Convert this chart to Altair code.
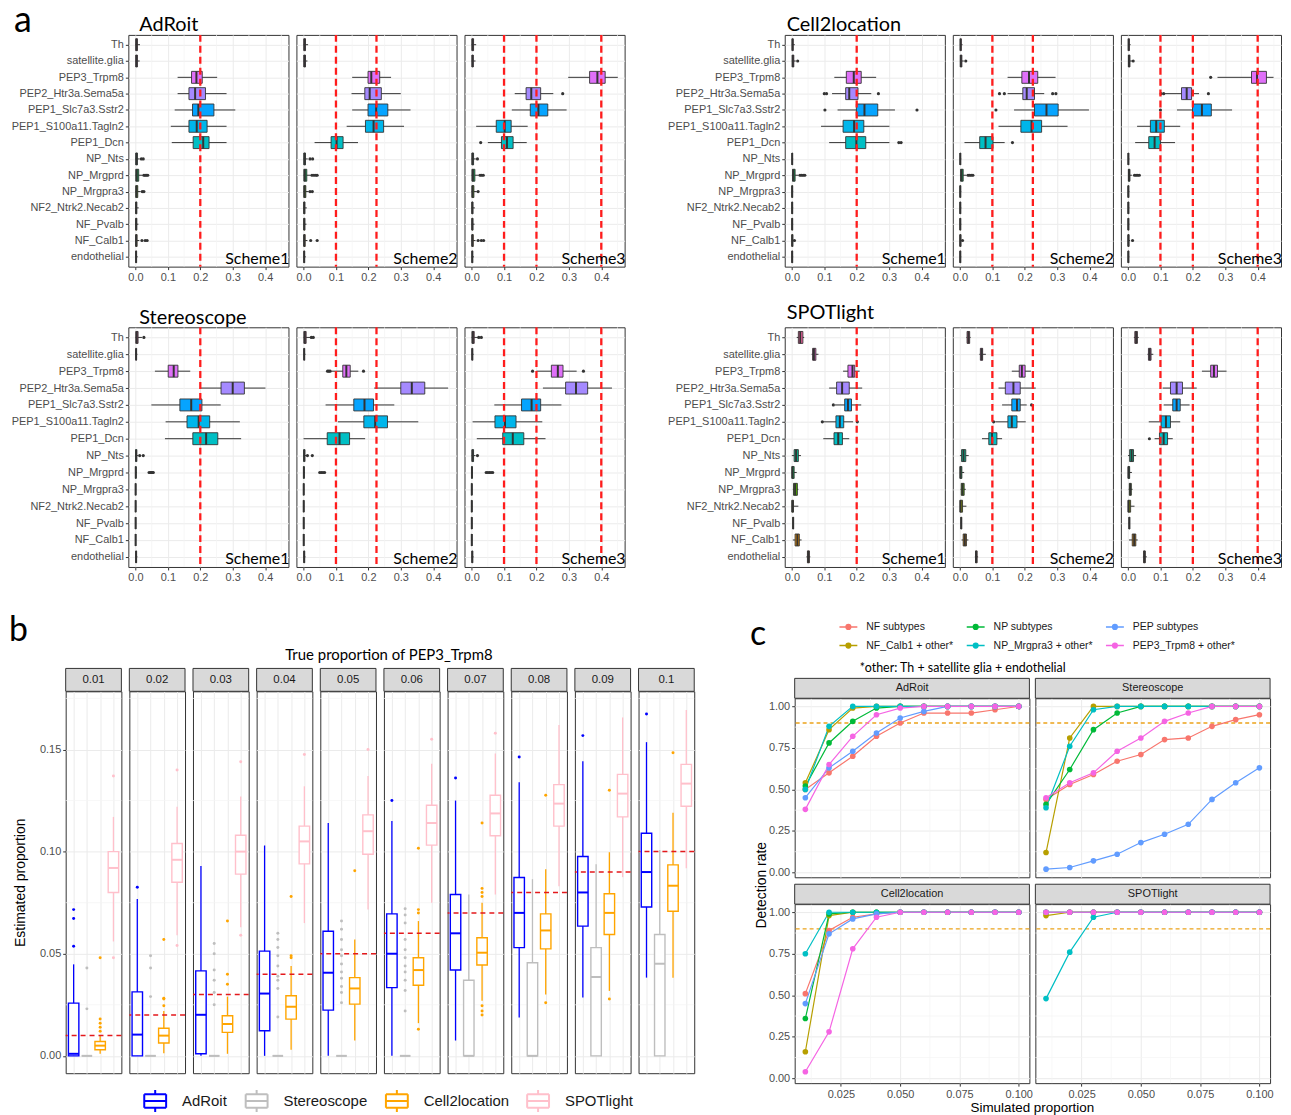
import altair as alt
import pandas as pd

FONT = "Liberation Sans"
ANN = "Lato"
GRID = "#ebebeb"
MINOR = "#f4f4f4"
FRAME = "#333333"
DARK = "#333333"

# ---------------- panel a ----------------
CELLTYPES = ["Th", "satellite.glia", "PEP3_Trpm8", "PEP2_Htr3a.Sema5a", "PEP1_Slc7a3.Sstr2",
             "PEP1_S100a11.Tagln2", "PEP1_Dcn", "NP_Nts", "NP_Mrgprd", "NP_Mrgpra3",
             "NF2_Ntrk2.Necab2", "NF_Pvalb", "NF_Calb1", "endothelial"]
CELL_COLORS = ["#FF66A8", "#FB61D7", "#DF70F8", "#A58AFF", "#06A4FF", "#00B6EB", "#00BFC4",
               "#00C094", "#00BC56", "#53B400", "#99A800", "#C49A00", "#E38900", "#F8766D"]

# (lower whisker, q1, median, q3, upper whisker) per cell type, in CELLTYPES order
ADROIT_S1 = [(0, 0.001, 0.003, 0.006, 0.014), (0, 0.001, 0.003, 0.006, 0.013),
             (0.130, 0.173, 0.188, 0.206, 0.252), (0.130, 0.165, 0.184, 0.216, 0.281),
             (0.121, 0.176, 0.194, 0.242, 0.308), (0.109, 0.165, 0.189, 0.221, 0.281),
             (0.112, 0.178, 0.209, 0.227, 0.281), (0, 0.001, 0.003, 0.006, 0.013),
             (0, 0.001, 0.004, 0.010, 0.022), (0, 0.001, 0.003, 0.007, 0.016),
             (0, 0.001, 0.002, 0.004, 0.010), (0, 0.001, 0.002, 0.004, 0.009),
             (0, 0.001, 0.002, 0.005, 0.012), (0, 0.001, 0.002, 0.003, 0.007)]
ADROIT_S1_OUT = {"NP_Nts": [0.018, 0.024], "NP_Mrgprd": [0.026, 0.030, 0.034, 0.038],
                 "NP_Mrgpra3": [0.021, 0.026], "NF_Calb1": [0.020, 0.030, 0.036]}
ADROIT_S2 = [(0, 0.001, 0.003, 0.006, 0.014), (0, 0.001, 0.003, 0.006, 0.012),
             (0.150, 0.199, 0.209, 0.235, 0.270), (0.148, 0.189, 0.204, 0.240, 0.300),
             (0.150, 0.199, 0.224, 0.260, 0.330), (0.133, 0.191, 0.216, 0.247, 0.310),
             (0.034, 0.085, 0.102, 0.122, 0.168), (0, 0.001, 0.003, 0.006, 0.013),
             (0, 0.001, 0.004, 0.010, 0.022), (0, 0.001, 0.003, 0.007, 0.016),
             (0, 0.001, 0.002, 0.004, 0.010), (0, 0.001, 0.002, 0.004, 0.009),
             (0, 0.001, 0.002, 0.005, 0.012), (0, 0.001, 0.002, 0.003, 0.007)]
ADROIT_S2_OUT = {"NP_Nts": [0.020, 0.028], "NP_Mrgprd": [0.026, 0.032, 0.038, 0.042],
                 "NP_Mrgpra3": [0.020, 0.027], "NF_Calb1": [0.022, 0.042]}
ADROIT_S3 = [(0, 0.001, 0.003, 0.006, 0.014), (0, 0.001, 0.003, 0.005, 0.012),
             (0.298, 0.364, 0.388, 0.412, 0.451), (0.133, 0.168, 0.184, 0.213, 0.252),
             (0.124, 0.181, 0.206, 0.235, 0.293), (0.014, 0.076, 0.102, 0.122, 0.173),
             (0.050, 0.092, 0.109, 0.128, 0.170), (0, 0.001, 0.003, 0.006, 0.013),
             (0, 0.001, 0.004, 0.010, 0.022), (0, 0.001, 0.003, 0.007, 0.016),
             (0, 0.001, 0.002, 0.004, 0.010), (0, 0.001, 0.002, 0.004, 0.009),
             (0, 0.001, 0.002, 0.005, 0.012), (0, 0.001, 0.002, 0.003, 0.007)]
ADROIT_S3_OUT = {"PEP2_Htr3a.Sema5a": [0.281], "PEP1_Dcn": [0.028], "NP_Nts": [0.018],
                 "NP_Mrgprd": [0.026, 0.031, 0.036], "NP_Mrgpra3": [0.020],
                 "NF_Calb1": [0.020, 0.030, 0.037]}

C2L_S1 = [(0, 0.001, 0.002, 0.004, 0.009), (0, 0.001, 0.003, 0.006, 0.012),
          (0.131, 0.168, 0.191, 0.214, 0.260), (0.124, 0.166, 0.177, 0.204, 0.245),
          (0.141, 0.199, 0.224, 0.265, 0.318), (0.090, 0.158, 0.192, 0.222, 0.301),
          (0.115, 0.166, 0.199, 0.228, 0.301), (0, 0.0005, 0.001, 0.002, 0.004),
          (0, 0.002, 0.005, 0.010, 0.020), (0, 0, 0.001, 0.002, 0.004),
          (0, 0, 0.001, 0.002, 0.004), (0, 0, 0.001, 0.002, 0.004),
          (0, 0, 0.001, 0.003, 0.006), (0, 0, 0.001, 0.002, 0.004)]
C2L_S1_OUT = {"satellite.glia": [0.018], "PEP2_Htr3a.Sema5a": [0.100, 0.107, 0.267],
              "PEP1_Slc7a3.Sstr2": [0.102, 0.386], "PEP1_Dcn": [0.330, 0.337],
              "NP_Mrgprd": [0.025, 0.030, 0.035, 0.040], "NF_Calb1": [0.008]}
C2L_S2 = [(0, 0.001, 0.002, 0.004, 0.008), (0, 0.001, 0.003, 0.006, 0.012),
          (0.147, 0.191, 0.213, 0.240, 0.295), (0.147, 0.194, 0.206, 0.230, 0.260),
          (0.167, 0.230, 0.267, 0.303, 0.398), (0.119, 0.188, 0.221, 0.252, 0.332),
          (0.014, 0.061, 0.079, 0.102, 0.138), (0, 0.0005, 0.001, 0.002, 0.004),
          (0, 0.002, 0.005, 0.010, 0.020), (0, 0, 0.001, 0.002, 0.004),
          (0, 0, 0.001, 0.002, 0.004), (0, 0, 0.001, 0.002, 0.004),
          (0, 0, 0.001, 0.003, 0.006), (0, 0, 0.001, 0.002, 0.004)]
C2L_S2_OUT = {"satellite.glia": [0.018], "PEP2_Htr3a.Sema5a": [0.122, 0.137, 0.286, 0.296],
              "PEP1_Slc7a3.Sstr2": [0.111], "PEP1_Dcn": [0.162],
              "NP_Mrgprd": [0.025, 0.030, 0.035, 0.040], "NF_Calb1": [0.008]}
C2L_S3 = [(0, 0.001, 0.002, 0.004, 0.008), (0, 0.001, 0.003, 0.006, 0.012),
          (0.276, 0.381, 0.398, 0.427, 0.449), (0.112, 0.165, 0.181, 0.196, 0.219),
          (0.151, 0.199, 0.228, 0.257, 0.321), (0.028, 0.069, 0.087, 0.112, 0.161),
          (0.022, 0.064, 0.082, 0.100, 0.145), (0, 0.0005, 0.001, 0.002, 0.004),
          (0, 0.001, 0.003, 0.006, 0.012), (0, 0, 0.001, 0.002, 0.004),
          (0, 0, 0.001, 0.002, 0.004), (0, 0, 0.001, 0.002, 0.004),
          (0, 0, 0.001, 0.003, 0.006), (0, 0, 0.001, 0.002, 0.004)]
C2L_S3_OUT = {"satellite.glia": [0.016], "PEP3_Trpm8": [0.255],
              "PEP2_Htr3a.Sema5a": [0.102, 0.110, 0.248], "PEP1_Slc7a3.Sstr2": [0.100],
              "NP_Mrgprd": [0.020, 0.025, 0.030, 0.035], "NF_Calb1": [0.014]}

STEREO_S1 = [(0, 0.001, 0.004, 0.008, 0.020), (0, 0.001, 0.002, 0.003, 0.006),
             (0.060, 0.101, 0.118, 0.131, 0.169), (0.200, 0.264, 0.300, 0.336, 0.401),
             (0.049, 0.137, 0.172, 0.205, 0.263), (0.093, 0.159, 0.195, 0.229, 0.322),
             (0.091, 0.177, 0.218, 0.254, 0.326), (0, 0.0005, 0.002, 0.004, 0.008),
             (0, 0, 0.001, 0.002, 0.004), (0, 0, 0.0005, 0.001, 0.002),
             (0, 0, 0.0005, 0.001, 0.002), (0, 0, 0.0005, 0.001, 0.002),
             (0, 0, 0.0005, 0.001, 0.002), (0, 0.001, 0.002, 0.003, 0.006)]
STEREO_S1_OUT = {"Th": [0.026], "NP_Nts": [0.013, 0.024],
                 "NP_Mrgprd": [0.042, 0.046, 0.049, 0.052, 0.055]}
STEREO_S2 = [(0, 0.001, 0.004, 0.008, 0.020), (0, 0.001, 0.002, 0.003, 0.006),
             (0.086, 0.121, 0.132, 0.144, 0.169), (0.218, 0.300, 0.334, 0.374, 0.446),
             (0.068, 0.155, 0.188, 0.216, 0.280), (0.106, 0.186, 0.221, 0.259, 0.354),
             (0.000, 0.073, 0.111, 0.142, 0.190), (0, 0.0005, 0.002, 0.004, 0.008),
             (0, 0, 0.001, 0.002, 0.004), (0, 0, 0.0005, 0.001, 0.002),
             (0, 0, 0.0005, 0.001, 0.002), (0, 0, 0.0005, 0.001, 0.002),
             (0, 0, 0.0005, 0.001, 0.002), (0, 0.001, 0.002, 0.003, 0.006)]
STEREO_S2_OUT = {"Th": [0.024, 0.030], "PEP3_Trpm8": [0.074, 0.078, 0.082, 0.185],
                 "NP_Nts": [0.012, 0.027], "NP_Mrgprd": [0.050, 0.055, 0.060, 0.065]}
STEREO_S3 = [(0, 0.001, 0.004, 0.008, 0.020), (0, 0.001, 0.002, 0.003, 0.006),
             (0.200, 0.246, 0.266, 0.282, 0.324), (0.220, 0.290, 0.322, 0.358, 0.433),
             (0.070, 0.154, 0.185, 0.213, 0.277), (0.003, 0.072, 0.103, 0.137, 0.218),
             (0.016, 0.096, 0.127, 0.161, 0.228), (0, 0.001, 0.003, 0.006, 0.012),
             (0, 0, 0.001, 0.002, 0.004), (0, 0, 0.0005, 0.001, 0.002),
             (0, 0, 0.0005, 0.001, 0.002), (0, 0, 0.0005, 0.001, 0.002),
             (0, 0, 0.0005, 0.001, 0.002), (0, 0.001, 0.002, 0.003, 0.006)]
STEREO_S3_OUT = {"Th": [0.022, 0.030], "PEP3_Trpm8": [0.188, 0.345], "NP_Nts": [0.018],
                 "NP_Mrgprd": [0.045, 0.050, 0.055, 0.060, 0.065]}

SPOT_S1 = [(0.015, 0.020, 0.026, 0.034, 0.038), (0.061, 0.064, 0.068, 0.074, 0.082),
           (0.158, 0.173, 0.187, 0.194, 0.209), (0.115, 0.138, 0.155, 0.177, 0.217),
           (0.133, 0.163, 0.173, 0.184, 0.214), (0.097, 0.136, 0.148, 0.160, 0.189),
           (0.097, 0.130, 0.143, 0.156, 0.177), (0.000, 0.007, 0.013, 0.020, 0.028),
           (0.000, 0.000, 0.002, 0.007, 0.015), (0.003, 0.005, 0.010, 0.017, 0.020),
           (0.000, 0.000, 0.002, 0.005, 0.020), (0.002, 0.003, 0.004, 0.005, 0.006),
           (0.003, 0.010, 0.017, 0.023, 0.030), (0.045, 0.048, 0.051, 0.054, 0.057)]
SPOT_S1_OUT = {"PEP1_Slc7a3.Sstr2": [0.128], "PEP1_S100a11.Tagln2": [0.094, 0.202]}
SPOT_S2 = [(0.020, 0.022, 0.026, 0.030, 0.033), (0.060, 0.063, 0.067, 0.070, 0.080),
           (0.160, 0.183, 0.191, 0.201, 0.219), (0.119, 0.140, 0.165, 0.186, 0.234),
           (0.130, 0.160, 0.176, 0.186, 0.206), (0.109, 0.148, 0.160, 0.176, 0.203),
           (0.068, 0.089, 0.099, 0.114, 0.130), (0.000, 0.005, 0.011, 0.018, 0.027),
           (0.000, 0.000, 0.002, 0.006, 0.013), (0.002, 0.004, 0.008, 0.013, 0.018),
           (0.000, 0.000, 0.002, 0.008, 0.020), (0.002, 0.003, 0.004, 0.005, 0.006),
           (0.005, 0.010, 0.015, 0.020, 0.026), (0.046, 0.048, 0.050, 0.053, 0.056)]
SPOT_S2_OUT = {"PEP1_Slc7a3.Sstr2": [0.221], "PEP1_S100a11.Tagln2": [0.104]}
SPOT_S3 = [(0.018, 0.021, 0.025, 0.029, 0.033), (0.060, 0.063, 0.067, 0.071, 0.078),
           (0.228, 0.255, 0.265, 0.276, 0.304), (0.107, 0.131, 0.150, 0.168, 0.212),
           (0.110, 0.138, 0.150, 0.161, 0.190), (0.064, 0.102, 0.117, 0.131, 0.161),
           (0.082, 0.097, 0.110, 0.122, 0.138), (0.000, 0.005, 0.011, 0.017, 0.025),
           (0.000, 0.000, 0.002, 0.005, 0.012), (0.002, 0.004, 0.007, 0.010, 0.014),
           (0.000, 0.000, 0.002, 0.008, 0.020), (0.002, 0.003, 0.004, 0.005, 0.006),
           (0.003, 0.013, 0.019, 0.024, 0.030), (0.046, 0.048, 0.051, 0.053, 0.058)]
SPOT_S3_OUT = {"PEP1_Dcn": [0.066]}

A_TRUE_LINES = {1: [0.2], 2: [0.1, 0.225], 3: [0.1, 0.2, 0.4]}
A_TICKS = [0, 0.1, 0.2, 0.3, 0.4]
A_MINOR = [0.05, 0.15, 0.25, 0.35, 0.45]

# ---------------- panel b ----------------
PROPS = [0.01, 0.02, 0.03, 0.04, 0.05, 0.06, 0.07, 0.08, 0.09, 0.1]
PROP_LABELS = ["0.01", "0.02", "0.03", "0.04", "0.05", "0.06", "0.07", "0.08", "0.09", "0.1"]
METHODS = ["AdRoit", "Stereoscope", "Cell2location", "SPOTlight"]
METHOD_COLORS = ["#0000ff", "#bebebe", "#ffa500", "#ffc0cb"]

ADROIT_B = [(0, 0, 0.001, 0.0258, 0.0448), (0, 0, 0.0104, 0.0313, 0.0768),
            (0, 0.001, 0.0201, 0.0416, 0.093), (0, 0.0123, 0.0305, 0.0513, 0.103),
            (0, 0.0224, 0.0407, 0.061, 0.114), (0, 0.0334, 0.050, 0.0695, 0.115),
            (0.0075, 0.042, 0.060, 0.079, 0.125), (0.0188, 0.053, 0.070, 0.0873, 0.134),
            (0.0286, 0.0635, 0.080, 0.0976, 0.1443), (0.0383, 0.0729, 0.090, 0.109, 0.1536)]
ADROIT_B_OUT = [[0.0537, 0.0672, 0.0716], [0.0826], [], [], [], [0.125], [0.136],
                [0.1463], [0.1568], [0.1674]]
STEREO_B = [(0, 0, 0, 0, 0), (0, 0, 0, 0, 0), (0, 0, 0, 0, 0), (0, 0, 0, 0, 0),
            (0, 0, 0, 0, 0), (0, 0, 0, 0, 0), (0, 0, 0, 0.037, 0.079),
            (0, 0, 0, 0.0456, 0.0865), (0, 0, 0.0386, 0.053, 0.0938), (0, 0, 0.0451, 0.0594, 0.1008)]
STEREO_B_OUT = [[0.023, 0.043], [0.029, 0.043, 0.049], [0.025, 0.031, 0.037, 0.042, 0.050, 0.055],
                [0.019, 0.033, 0.037, 0.039, 0.044, 0.049, 0.053, 0.057, 0.060],
                [0.026, 0.031, 0.034, 0.038, 0.041, 0.045, 0.049, 0.052, 0.057, 0.062, 0.066],
                [0.022, 0.032, 0.037, 0.041, 0.044, 0.048, 0.052, 0.057, 0.065, 0.069, 0.072],
                [], [], [], []]
C2L_B = [(0.001, 0.003, 0.005, 0.007, 0.010), (0.0013, 0.0063, 0.0099, 0.0135, 0.022),
         (0.001, 0.0115, 0.0156, 0.0196, 0.029), (0.003, 0.018, 0.024, 0.0294, 0.044),
         (0.0075, 0.0253, 0.033, 0.0383, 0.057), (0.016, 0.0346, 0.042, 0.048, 0.066),
         (0.027, 0.0445, 0.0505, 0.0578, 0.075), (0.030, 0.0524, 0.0614, 0.0695, 0.0914),
         (0.0318, 0.0594, 0.070, 0.0794, 0.0997), (0.0383, 0.0708, 0.0833, 0.0935, 0.119)]
C2L_B_OUT = [[0.012, 0.014, 0.016, 0.018, 0.048], [0.0245, 0.0278, 0.0282, 0.057],
             [0.035, 0.040, 0.066], [0.048, 0.049, 0.078], [0.0906],
             [0.013, 0.070, 0.0716, 0.1016], [0.020, 0.022, 0.0245, 0.078, 0.080, 0.082, 0.114],
             [0.026, 0.1276], [0.0278, 0.130], [0.1484]]
SPOT_B = [(0.056, 0.080, 0.092, 0.100, 0.117), (0.059, 0.085, 0.096, 0.104, 0.122),
          (0.063, 0.089, 0.100, 0.108, 0.127), (0.065, 0.094, 0.105, 0.1125, 0.132),
          (0.0716, 0.0987, 0.110, 0.118, 0.137), (0.075, 0.1032, 0.114, 0.1227, 0.143),
          (0.079, 0.1078, 0.1187, 0.1276, 0.148), (0.083, 0.1125, 0.1235, 0.1328, 0.162),
          (0.0875, 0.117, 0.1284, 0.1378, 0.1657), (0.0919, 0.1222, 0.1333, 0.1427, 0.1693)]
SPOT_B_OUT = [[0.048, 0.137], [0.054, 0.140], [0.059, 0.144], [0.1476], [0.150], [0.155],
              [0.158], [], [], []]

B_STATS = {"AdRoit": ADROIT_B, "Stereoscope": STEREO_B, "Cell2location": C2L_B, "SPOTlight": SPOT_B}
B_OUT = {"AdRoit": ADROIT_B_OUT, "Stereoscope": STEREO_B_OUT, "Cell2location": C2L_B_OUT,
         "SPOTlight": SPOT_B_OUT}

# ---------------- panel c ----------------
C_X = [0.01, 0.02, 0.03, 0.04, 0.05, 0.06, 0.07, 0.08, 0.09, 0.10]
SERIES = ["NF subtypes", "NF_Calb1 + other*", "NP subtypes", "NP_Mrgpra3 + other*",
          "PEP subtypes", "PEP3_Trpm8 + other*"]
LEGEND_ORDER = ["NF subtypes", "NP subtypes", "PEP subtypes",
                "NF_Calb1 + other*", "NP_Mrgpra3 + other*", "PEP3_Trpm8 + other*"]
LEGEND_COLORS = ["#F8766D", "#00BA38", "#619CFF", "#B79F00", "#00BFC4", "#F564E3"]

DET_ADROIT = {
    "NF subtypes": [0.50, 0.60, 0.70, 0.82, 0.90, 0.96, 0.96, 0.96, 0.98, 1.00],
    "NF_Calb1 + other*": [0.54, 0.86, 0.99, 1, 1, 1, 1, 1, 1, 1],
    "NP subtypes": [0.52, 0.78, 0.91, 0.99, 1, 1, 1, 1, 1, 1],
    "NP_Mrgpra3 + other*": [0.50, 0.88, 1, 1, 1, 1, 1, 1, 1, 1],
    "PEP subtypes": [0.45, 0.63, 0.73, 0.84, 0.93, 0.97, 1, 1, 1, 1],
    "PEP3_Trpm8 + other*": [0.38, 0.65, 0.82, 0.95, 0.99, 1, 1, 1, 1, 1],
}
DET_STEREO = {
    "NF subtypes": [0.44, 0.53, 0.59, 0.67, 0.71, 0.80, 0.81, 0.88, 0.92, 0.95],
    "NF_Calb1 + other*": [0.12, 0.81, 1, 1, 1, 1, 1, 1, 1, 1],
    "NP subtypes": [0.41, 0.62, 0.86, 0.96, 1, 1, 1, 1, 1, 1],
    "NP_Mrgpra3 + other*": [0.39, 0.76, 0.98, 1, 1, 1, 1, 1, 1, 1],
    "PEP subtypes": [0.02, 0.03, 0.07, 0.11, 0.18, 0.23, 0.29, 0.44, 0.54, 0.63],
    "PEP3_Trpm8 + other*": [0.45, 0.54, 0.60, 0.73, 0.81, 0.91, 0.96, 1, 1, 1],
}
DET_C2L = {
    "NF subtypes": [0.51, 0.89, 0.97, 0.99, 1, 1, 1, 1, 1, 1],
    "NF_Calb1 + other*": [0.16, 0.98, 1, 1, 1, 1, 1, 1, 1, 1],
    "NP subtypes": [0.36, 0.99, 1, 1, 1, 1, 1, 1, 1, 1],
    "NP_Mrgpra3 + other*": [0.75, 1, 1, 1, 1, 1, 1, 1, 1, 1],
    "PEP subtypes": [0.45, 0.87, 0.96, 0.99, 1, 1, 1, 1, 1, 1],
    "PEP3_Trpm8 + other*": [0.04, 0.28, 0.78, 0.97, 1, 1, 1, 1, 1, 1],
}
DET_SPOT = {
    "NF subtypes": [1, 1, 1, 1, 1, 1, 1, 1, 1, 1],
    "NF_Calb1 + other*": [0.98, 1, 1, 1, 1, 1, 1, 1, 1, 1],
    "NP subtypes": [1, 1, 1, 1, 1, 1, 1, 1, 1, 1],
    "NP_Mrgpra3 + other*": [0.48, 0.76, 0.97, 1, 1, 1, 1, 1, 1, 1],
    "PEP subtypes": [1, 1, 1, 1, 1, 1, 1, 1, 1, 1],
    "PEP3_Trpm8 + other*": [1, 1, 1, 1, 1, 1, 1, 1, 1, 1],
}


# ---------------- helpers ----------------
def txt(s, x, y, size, font=ANN, align="left", baseline="alphabetic", angle=0, color="black"):
    return alt.Chart(pd.DataFrame({"t": [s]})).mark_text(
        font=font, fontSize=size, align=align, baseline=baseline, angle=angle, color=color
    ).encode(x=alt.value(x), y=alt.value(y), text="t:N")


def spacer(w, h=1):
    return alt.Chart(pd.DataFrame({"z": [0]})).mark_point(opacity=0).encode(
        x=alt.value(0), y=alt.value(0)
    ).properties(width=w, height=h, view=alt.ViewBackground(stroke="transparent"))


def res(c):
    return c.resolve_scale(color="independent", stroke="independent").resolve_legend(
        color="independent", stroke="independent")


A_W = 161


def a_chart(stats, outl, scheme, h, show_y, extra=()):
    box = pd.DataFrame({"cell": CELLTYPES,
                        "lo": [s[0] for s in stats], "q1": [s[1] for s in stats],
                        "med": [s[2] for s in stats], "q3": [s[3] for s in stats],
                        "hi": [s[4] for s in stats]})
    oc = [c for c, vs in outl.items() for v in vs]
    ov = [v for c, vs in outl.items() for v in vs]
    outdf = pd.DataFrame({"cell": oc, "v": ov})
    xs = alt.Scale(domain=[-0.022, 0.472], nice=False, zero=False)
    ys = alt.Scale(type="point", domain=CELLTYPES, padding=0.6)
    xax = alt.Axis(values=A_TICKS, format=".1f", title=None, labelFont=FONT, labelFontSize=11,
                   labelColor="#4d4d4d", tickColor=DARK, tickSize=3, labelPadding=2,
                   domain=False, grid=True, gridColor=GRID, gridWidth=1)
    if show_y:
        yax = alt.Axis(title=None, labelFont=FONT, labelFontSize=11, labelColor="#4d4d4d",
                       tickColor=DARK, tickSize=3, labelPadding=2, domain=False, grid=True,
                       gridColor=GRID, gridWidth=1)
    else:
        yax = alt.Axis(title=None, labels=False, ticks=False, domain=False, grid=True,
                       gridColor=GRID, gridWidth=1)

    def X(f):
        return alt.X(f, scale=xs, axis=xax)

    Y = alt.Y("cell:N", scale=ys, axis=yax)
    layers = [
        alt.Chart(pd.DataFrame({"v": A_MINOR})).mark_rule(color=MINOR, strokeWidth=0.7).encode(x=X("v:Q")),
        alt.Chart(box).mark_rule(color=DARK, strokeWidth=1).encode(x=X("lo:Q"), x2="hi:Q", y=Y),
        alt.Chart(box).mark_bar(size=12, stroke=DARK, strokeWidth=0.9, opacity=1).encode(
            x=X("q1:Q"), x2="q3:Q", y=Y,
            color=alt.Color("cell:N", scale=alt.Scale(domain=CELLTYPES, range=CELL_COLORS), legend=None)),
        alt.Chart(box).mark_tick(color=DARK, thickness=2, size=12, opacity=1).encode(x=X("med:Q"), y=Y),
        alt.Chart(outdf).mark_circle(size=10, color=DARK, opacity=1).encode(x=X("v:Q"), y=Y),
        alt.Chart(pd.DataFrame({"v": A_TRUE_LINES[scheme]})).mark_rule(
            color="#ff1c1c", strokeDash=[7, 4], strokeWidth=2.3).encode(x=X("v:Q")),
        txt("Scheme%d" % scheme, A_W + 1, h - 2.5, 16, align="right"),
    ]
    layers += list(extra)
    return alt.layer(*layers).properties(width=A_W, height=h)


def a_row(stats_list, outs_list, h, title, title_x, title_y, letter=None):
    charts = []
    for k in range(3):
        extra = []
        if k == 0:
            extra.append(txt(title, title_x, title_y, 20))
            if letter is not None:
                extra.append(txt(letter, -115, -3.3, 36))
        charts.append(a_chart(stats_list[k], outs_list[k], k + 1, h, k == 0, extra))
    return charts


B_W = 56
B_H = 384
# box-plot key drawn from straight segments only (so it stays hollow)
BOX_KEY = ("M-1,-0.62H1 M1,-0.62V0.62 M1,0.62H-1 M-1,0.62V-0.62 "
           "M-1,0H1 M0,-0.62V-1 M0,0.62V1")


def b_chart(i):
    rows = []
    outs = []
    for m in METHODS:
        lo, q1, med, q3, hi = B_STATS[m][i]
        rows.append({"method": m, "lo": lo, "q1": q1, "med": med, "q3": q3, "hi": hi})
        for v in B_OUT[m][i]:
            outs.append({"method": m, "v": v})
    box = pd.DataFrame(rows)
    outdf = pd.DataFrame(outs, columns=["method", "v"])
    first = i == 0
    xs = alt.Scale(type="point", domain=METHODS, padding=0.6)
    ys = alt.Scale(domain=[-0.0085, 0.1785], nice=False, zero=False)
    xax = alt.Axis(title=None, labels=False, ticks=False, domain=False, grid=True,
                   gridColor=GRID, gridWidth=1)
    if first:
        yax = alt.Axis(values=[0, 0.05, 0.1, 0.15], format=".2f", title="Estimated proportion",
                       titleFont=FONT, titleFontSize=14, titleFontWeight="normal", titleColor="black",
                       titlePadding=12, labelFont=FONT, labelFontSize=11, labelColor="#4d4d4d",
                       tickColor=DARK, tickSize=3, labelPadding=2, domain=False, grid=True,
                       gridColor=GRID, gridWidth=1)
    else:
        yax = alt.Axis(values=[0, 0.05, 0.1, 0.15], title=None, labels=False, ticks=False,
                       domain=False, grid=True, gridColor=GRID, gridWidth=1)
    cs = alt.Scale(domain=METHODS, range=METHOD_COLORS)
    if first:
        leg = alt.Legend(orient="none", legendX=78, legendY=400, direction="horizontal", title=None,
                         symbolType=BOX_KEY, symbolSize=484, symbolStrokeWidth=2,
                         labelFont=FONT, labelFontSize=15,
                         labelColor="#1a1a1a", labelOffset=15, columnPadding=14)
    else:
        leg = None
    X = alt.X("method:N", scale=xs, axis=xax)

    def Y(f):
        return alt.Y(f, scale=ys, axis=yax)

    layers = [
        alt.Chart(pd.DataFrame({"v": [0.025, 0.075, 0.125, 0.175]})).mark_rule(
            color=MINOR, strokeWidth=0.7).encode(y=Y("v:Q")),
        alt.Chart(box).mark_rule(strokeWidth=1.3).encode(
            x=X, y=Y("lo:Q"), y2="hi:Q", color=alt.Color("method:N", scale=cs, legend=leg)),
        alt.Chart(box).mark_bar(size=10.5, fill="white", strokeWidth=1.4).encode(
            x=X, y=Y("q1:Q"), y2="q3:Q", stroke=alt.Stroke("method:N", scale=cs, legend=None)),
        alt.Chart(box).mark_tick(thickness=2, size=10.5, opacity=1).encode(
            x=X, y=Y("med:Q"), color=alt.Color("method:N", scale=cs, legend=None)),
        alt.Chart(outdf).mark_circle(size=9, opacity=1).encode(
            x=X, y=Y("v:Q"), color=alt.Color("method:N", scale=cs, legend=None)),
        alt.Chart(pd.DataFrame({"v": [PROPS[i]]})).mark_rule(
            color="#e3191c", strokeDash=[5, 4], strokeWidth=1.5).encode(y=Y("v:Q")),
        alt.Chart(pd.DataFrame({"z": [0]})).mark_rect(fill="#d9d9d9", stroke=DARK, strokeWidth=1).encode(
            x=alt.value(0), x2=alt.value(B_W), y=alt.value(-23), y2=alt.value(0)),
        txt(PROP_LABELS[i], B_W / 2, -11.5, 11.5, font=FONT, align="center", baseline="middle",
            color="#1a1a1a"),
    ]
    if first:
        layers.append(txt("True proportion of PEP3_Trpm8", 325, -31, 15, align="center"))
        layers.append(txt("b", -57, -51, 34))
    return alt.layer(*layers).properties(width=B_W, height=B_H)


C_W = 236
C_H = 180
LINE_KEY = "M-1,0H1 M0.26,0A0.26,0.26,0,1,1,-0.26,0A0.26,0.26,0,1,1,0.26,0"


def c_chart(name, det, show_x, show_y, extra=(), legend=False):
    rows = []
    for s in SERIES:
        for x, v in zip(C_X, det[s]):
            rows.append({"series": s, "x": x, "y": v})
    df = pd.DataFrame(rows)
    xs = alt.Scale(domain=[0.0055, 0.1045], nice=False, zero=False)
    ys = alt.Scale(domain=[-0.029, 1.049], nice=False, zero=False)
    if show_x:
        xax = alt.Axis(values=[0.025, 0.05, 0.075, 0.1], format=".3f", title=None, labelFont=FONT,
                       labelFontSize=11, labelColor="#4d4d4d", tickColor=DARK, tickSize=3,
                       labelPadding=2, domain=False, grid=True, gridColor=GRID, gridWidth=1)
    else:
        xax = alt.Axis(values=[0.025, 0.05, 0.075, 0.1], title=None, labels=False, ticks=False,
                       domain=False, grid=True, gridColor=GRID, gridWidth=1)
    if show_y:
        yax = alt.Axis(values=[0, 0.25, 0.5, 0.75, 1.0], format=".2f", title=None, labelFont=FONT,
                       labelFontSize=11, labelColor="#4d4d4d", tickColor=DARK, tickSize=3,
                       labelPadding=2, domain=False, grid=True, gridColor=GRID, gridWidth=1)
    else:
        yax = alt.Axis(values=[0, 0.25, 0.5, 0.75, 1.0], title=None, labels=False, ticks=False,
                       domain=False, grid=True, gridColor=GRID, gridWidth=1)
    cs = alt.Scale(domain=LEGEND_ORDER, range=LEGEND_COLORS)
    if legend:
        leg = alt.Legend(orient="none", legendX=44, legendY=-82, columns=3, direction="horizontal",
                         title=None, symbolType=LINE_KEY, symbolSize=324, symbolStrokeWidth=1.5,
                         labelFont=FONT, labelFontSize=10.5, labelColor="#1a1a1a", labelOffset=8,
                         columnPadding=10, rowPadding=3)
    else:
        leg = None

    def X(f):
        return alt.X(f, scale=xs, axis=xax)

    def Y(f):
        return alt.Y(f, scale=ys, axis=yax)

    layers = [
        alt.Chart(pd.DataFrame({"v": [0.0125, 0.0375, 0.0625, 0.0875]})).mark_rule(
            color=MINOR, strokeWidth=0.7).encode(x=X("v:Q")),
        alt.Chart(pd.DataFrame({"v": [0.125, 0.375, 0.625, 0.875]})).mark_rule(
            color=MINOR, strokeWidth=0.7).encode(y=Y("v:Q")),
        alt.Chart(pd.DataFrame({"v": [0.9]})).mark_rule(
            color="#eba31b", strokeDash=[4, 3], strokeWidth=1.3).encode(y=Y("v:Q")),
        alt.Chart(df).mark_line(strokeWidth=1.2).encode(
            x=X("x:Q"), y=Y("y:Q"), color=alt.Color("series:N", scale=cs, legend=leg)),
        alt.Chart(df).mark_circle(size=32, opacity=1).encode(
            x=X("x:Q"), y=Y("y:Q"), color=alt.Color("series:N", scale=cs, legend=None)),
        alt.Chart(pd.DataFrame({"z": [0]})).mark_rect(fill="#d9d9d9", stroke=DARK, strokeWidth=1).encode(
            x=alt.value(0), x2=alt.value(C_W), y=alt.value(-20), y2=alt.value(0)),
        txt(name, C_W / 2, -10, 11, font=FONT, align="center", baseline="middle", color="#1a1a1a"),
    ]
    layers += list(extra)
    return alt.layer(*layers).properties(width=C_W, height=C_H)


# ---------------- assemble ----------------
# Nested concat groups count as zero-size inside "flush" layouts, so explicit
# spacer views carry the sizes of the nested groups.
ad = a_row([ADROIT_S1, ADROIT_S2, ADROIT_S3], [ADROIT_S1_OUT, ADROIT_S2_OUT, ADROIT_S3_OUT],
           233, "AdRoit", 11, -3.5, letter="a")
cl = a_row([C2L_S1, C2L_S2, C2L_S3], [C2L_S1_OUT, C2L_S2_OUT, C2L_S3_OUT],
           233, "Cell2location", 2, -4)
st = a_row([STEREO_S1, STEREO_S2, STEREO_S3], [STEREO_S1_OUT, STEREO_S2_OUT, STEREO_S3_OUT],
           241, "Stereoscope", 11, -3.7)
sp = a_row([SPOT_S1, SPOT_S2, SPOT_S3], [SPOT_S1_OUT, SPOT_S2_OUT, SPOT_S3_OUT],
           241, "SPOTlight", 2, -8)

row1 = res(alt.hconcat(spacer(55), *ad, spacer(145), *cl, spacing=8, bounds="flush"))
row2 = res(alt.hconcat(spacer(55), *st, spacer(145), *sp, spacing=8, bounds="flush"))

b_charts = [b_chart(i) for i in range(10)]

c_tl = c_chart("AdRoit", DET_ADROIT, False, True, legend=True, extra=[
    txt("c", -45, -54, 34),
    txt("*other: Th + satellite glia + endothelial", 169, -26, 12.5, align="center"),
])
c_tr = c_chart("Stereoscope", DET_STEREO, False, False)
c_bl = c_chart("Cell2location", DET_C2L, True, True, extra=[
    txt("Simulated proportion", 239, 209, 13.5, font=FONT, align="center"),
    txt("Detection rate", -29, -19, 14, font=FONT, align="center", angle=270),
])
c_br = c_chart("SPOTlight", DET_SPOT, True, False)

c_left = res(alt.vconcat(spacer(10, 7), c_tl, spacer(10, 27), c_bl, spacing=0, bounds="flush"))
c_right = res(alt.vconcat(spacer(10, 7), c_tr, spacer(10, 27), c_br, spacing=0, bounds="flush"))

row3 = res(alt.hconcat(*b_charts, spacer(85), c_left, spacer(226), c_right,
                       spacing=8, bounds="flush"))

chart = res(alt.vconcat(row1, spacer(10, 294), row2, spacer(10, 366), row3,
                        spacing=0, bounds="flush")).properties(
    padding={"left": 0, "top": -9, "right": 0, "bottom": 0}
).configure_view(stroke=FRAME, strokeWidth=1)

chart.save("out.html", embed_options={"renderer": "svg", "actions": False})
